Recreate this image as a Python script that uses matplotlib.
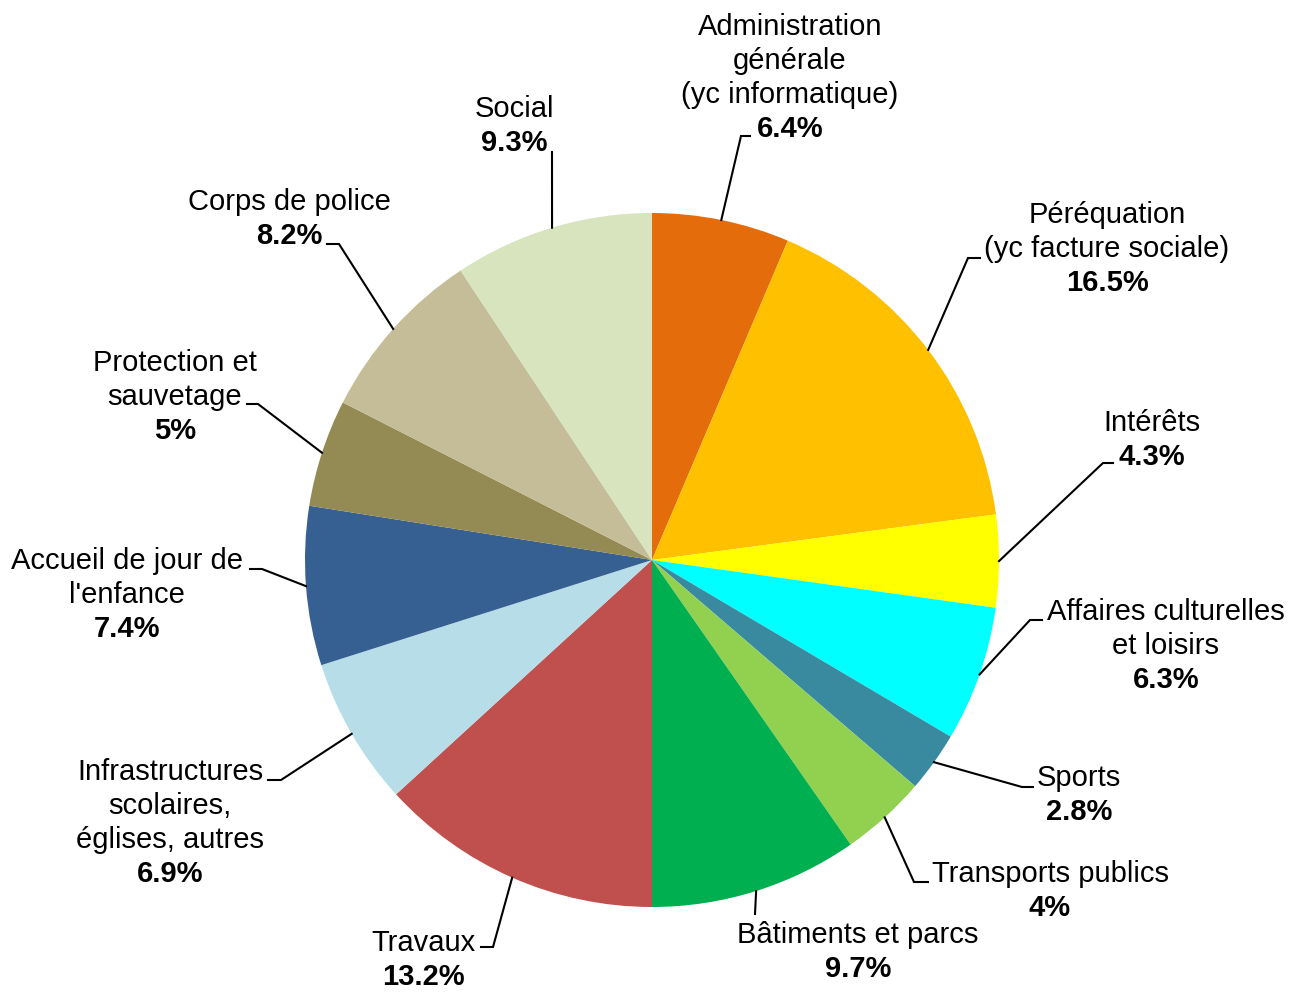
import matplotlib.pyplot as plt
import numpy as np

plt.rcParams['font.family'] = ['Liberation Sans', 'DejaVu Sans']

# Data
names = [
    'Administration\ngénérale\n(yc informatique)',
    'Péréquation\n(yc facture sociale)',
    'Intérêts',
    'Affaires culturelles\net loisirs',
    'Sports',
    'Transports publics',
    'Bâtiments et parcs',
    'Travaux',
    'Infrastructures\nscolaires,\néglises, autres',
    'Accueil de jour de\nl\'enfance',
    'Protection et\nsauvetage',
    'Corps de police',
    'Social',
]
values = [6.4, 16.5, 4.3, 6.3, 2.8, 4.0, 9.7, 13.2, 6.9, 7.4, 5.0, 8.2, 9.3]
pct_labels = ['6.4%', '16.5%', '4.3%', '6.3%', '2.8%', '4%', '9.7%',
              '13.2%', '6.9%', '7.4%', '5%', '8.2%', '9.3%']
colors = ['#E46C0A', '#FFC000', '#FFFF00', '#00FFFF', '#3A8A9F', '#92D050',
          '#00B050', '#C0504D', '#B7DEE8', '#366092', '#948A54', '#C4BD97',
          '#D7E4BD']

# Layout (image pixel coords, y down)
W, H = 1302, 992
cx, cy, r = 652, 560, 347
# text block: center x, y of first line center
text_pos = [(790, 25), (1107, 213), (1152, 421), (1166, 610), (1079, 776),
            (1050, 872), (858, 933), (423, 941), (170, 770), (127, 559),
            (175, 361), (289, 200), (514, 107)]
# leader line: elbow point and hook end
elbows = [(741, 136), (968, 258), (1103, 463), (1030, 620), (1022, 787),
          (914, 882), (755, 914), (493, 947), (281, 780), (262, 569),
          (258, 404), (339, 244), (552, 152)]
hooks = [(750, 136), (980, 258), (1113, 463), (1042, 620), (1033, 787),
         (928, 882), (755, 914), (481, 947), (268, 780), (250, 569),
         (247, 404), (327, 244), (552, 152)]
line_h = 34

fig = plt.figure(figsize=(W / 100, H / 100), dpi=100)
ax = fig.add_axes([0, 0, 1, 1])

ax.pie(values, colors=colors, startangle=90, counterclock=False,
       center=(cx, H - cy), radius=r, wedgeprops=dict(linewidth=0))
ax.set_xlim(0, W)
ax.set_ylim(0, H)
ax.set_aspect('equal')
ax.axis('off')

angles = 90 - (np.cumsum(values) - np.array(values) / 2) * 3.6
for i, name in enumerate(names):
    a = np.deg2rad(angles[i])
    ax_, ay_ = cx + r * np.cos(a), cy - r * np.sin(a)
    ex, ey = elbows[i]
    hx, hy = hooks[i]
    ax.plot([ax_, ex, hx], [H - ay_, H - ey, H - hy], color='black', lw=1.5,
            solid_joinstyle='miter')

    tx, ty = text_pos[i]
    lines = name.split('\n')
    for j, ln in enumerate(lines):
        ax.text(tx, H - (ty + j * line_h) - 10, ln, ha='center', va='baseline',
                fontsize=21)
    ax.text(tx, H - (ty + len(lines) * line_h) - 10, pct_labels[i], ha='center',
            va='baseline', fontsize=21, fontweight='bold')

fig.savefig('out.png', dpi=100)
